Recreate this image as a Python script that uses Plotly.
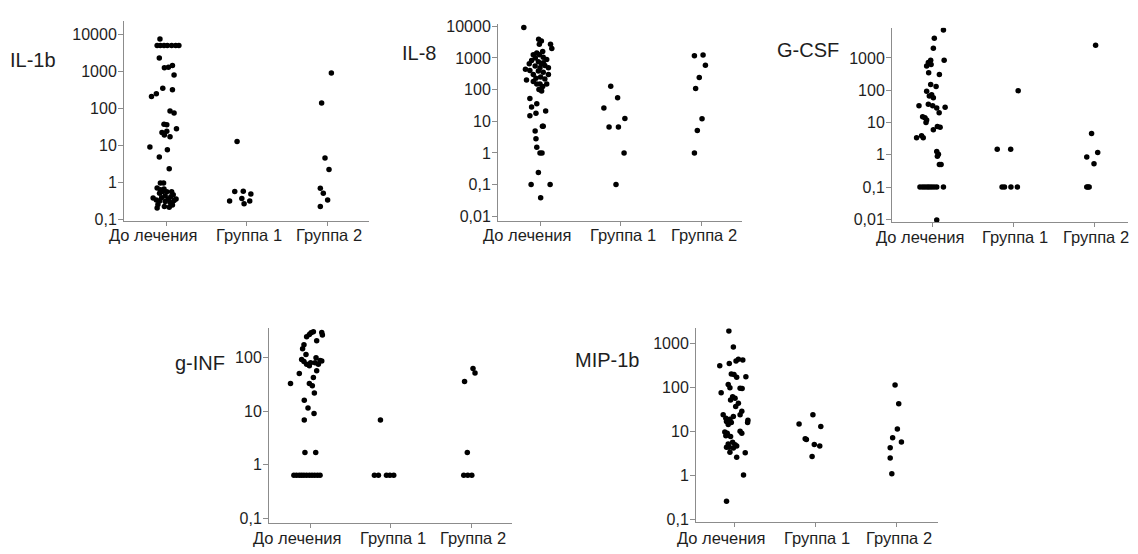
import plotly.graph_objects as go

# ---------------- categories & ticks ----------------
categories = ["До лечения", "Группа 1", "Группа 2"]
panel_names = ["IL-1b", "IL-8", "G-CSF", "g-INF", "MIP-1b"]

ticks_il1b = [0.1, 1, 10, 100, 1000, 10000]
ticktext_il1b = ["0,1", "1", "10", "100", "1000", "10000"]
ticks_il8 = [0.01, 0.1, 1, 10, 100, 1000, 10000]
ticktext_il8 = ["0,01", "0,1", "1", "10", "100", "1000", "10000"]
ticks_gcsf = [0.01, 0.1, 1, 10, 100, 1000]
ticktext_gcsf = ["0,01", "0,1", "1", "10", "100", "1000"]
ticks_ginf = [0.1, 1, 10, 100]
ticktext_ginf = ["0,1", "1", "10", "100"]
ticks_mip = [0.1, 1, 10, 100, 1000]
ticktext_mip = ["0,1", "1", "10", "100", "1000"]

# ---------------- IL-1b ----------------
il1b_before = [7500, 5000, 5000, 5000, 5000, 5000, 5000, 5000, 2300, 1250, 1300, 1450, 800,
               210, 250, 350, 320, 85, 75, 37, 36, 28, 22, 19, 24, 17, 9, 7.5, 4.8, 2.3,
               0.95, 0.95, 0.7, 0.62, 0.65, 0.55, 0.5, 0.56, 0.55, 0.46,
               0.37, 0.33, 0.38, 0.42, 0.35, 0.4, 0.35, 0.31, 0.3, 0.28, 0.32,
               0.25, 0.22, 0.27, 0.24, 0.2, 0.21]
il1b_before_dx = [-0.075, -0.11, -0.07, -0.025, 0.017, 0.07, 0.12, 0.16, -0.083, -0.02, 0.03, 0.08, 0.1,
                  -0.18, -0.12, -0.04, 0.08, 0.05, 0.1, -0.025, 0.01, 0.13, -0.05, -0.02, 0.01, 0.05, -0.2, 0.017, -0.083, 0.04,
                  -0.07, -0.03, -0.11, -0.07, -0.025, 0.01, -0.08, -0.04, 0.07, 0.09,
                  -0.16, -0.12, -0.055, -0.01, 0.03, 0.06, 0.125, -0.08, -0.01, 0.05, 0.1,
                  -0.1, -0.02, 0.07, 0.08, -0.11, 0.04]
il1b_g1 = [12.6, 0.56, 0.57, 0.48, 0.36, 0.31, 0.31, 0.26]
il1b_g1_dx = [-0.117, -0.146, -0.04, 0.054, -0.058, 0.04, -0.21, -0.03]
il1b_g2 = [910, 140, 4.5, 2.2, 0.69, 0.5, 0.33, 0.22]
il1b_g2_dx = [0.054, -0.067, -0.025, 0.025, -0.083, -0.046, 0.008, -0.083]

# ---------------- IL-8 ----------------
il8_before = [9100, 3900, 3400, 2700, 2700, 2000, 1600, 1430, 1270, 1270, 1000, 1050, 890, 830,
              760, 650, 650, 560, 580, 490, 440, 390, 350, 200, 180, 230, 250, 150, 150, 125,
              100, 90, 400, 490, 215, 300, 300, 150, 700,
              52, 36, 28, 15, 18, 21, 7, 7, 4.9, 2.8, 1.5, 1.0, 1.0, 0.24, 0.1, 0.1, 0.038]
il8_before_dx = [-0.2, -0.017, 0.017, -0.008, 0.13, 0.146, 0.033, -0.04, -0.083, -0.008, -0.058, 0.04, 0.083, -0.104,
                 -0.02, 0.02, -0.133, -0.06, 0.06, 0.104, -0.18, -0.02, 0.04, -0.167, -0.083, -0.05, 0.008, 0.083, -0.04, 0.033,
                 -0.013, 0.02, -0.125, 0.0, 0.06, -0.083, 0.104, 0.0, 0.04,
                 -0.125, -0.04, -0.104, -0.125, -0.05, 0.07, 0.04, 0.03, -0.06, -0.05, -0.04, 0.0, 0.025, -0.02, -0.11, 0.125, 0.008]
il8_g1 = [128, 55, 26, 12.3, 6.6, 6.6, 1.0, 0.1]
il8_g1_dx = [-0.125, -0.04, -0.21, 0.05, -0.146, -0.03, 0.04, -0.06]
il8_g2 = [1180, 1250, 590, 240, 108, 12, 5.1, 1.0]
il8_g2_dx = [-0.09, 0.017, 0.046, -0.03, -0.075, 0.004, -0.054, -0.09]

# ---------------- G-CSF ----------------
gcsf_before = [7400, 4100, 2000, 850, 850, 720, 630, 570, 350, 310, 150, 130, 93, 73, 66, 59,
               33, 37, 33, 28, 30, 15, 14, 12, 20, 10, 7.6, 7.2, 6, 3.4, 3.9, 3.4,
               1.26, 1.05, 0.9, 0.5, 0.5,
               0.1, 0.1, 0.1, 0.1, 0.1, 0.1, 0.1, 0.1, 0.1, 0.0095]
gcsf_before_dx = [0.133, 0.02, 0.008, 0.142, -0.025, -0.054, -0.02, -0.075, -0.05, 0.083, -0.025, 0.042, -0.075, -0.013, -0.042, 0.008,
                  -0.17, -0.054, 0.0, 0.05, 0.154, -0.125, -0.096, -0.075, 0.08, -0.083, 0.058, 0.092, 0.008, -0.2, -0.138, -0.117,
                  0.05, 0.071, 0.058, 0.083, 0.104,
                  -0.158, -0.125, -0.096, -0.067, -0.042, -0.013, 0.017, 0.05, 0.133, 0.05]
gcsf_g1 = [97, 1.5, 1.5, 0.1, 0.1, 0.1, 0.1]
gcsf_g1_dx = [0.06, -0.2, -0.033, -0.14, -0.11, -0.03, 0.05]
gcsf_g2 = [2500, 4.6, 0.85, 1.18, 0.53, 0.1, 0.1, 0.1]
gcsf_g2_dx = [0.02, -0.03, -0.09, 0.046, 0.0, -0.09, -0.075, -0.06]

# ---------------- g-INF ----------------
ginf_before = [293, 305, 273, 297, 265, 248, 207, 175, 148, 115, 100, 93, 85, 76, 71, 89, 81, 81, 87, 76,
               57, 43, 33, 33, 51, 30, 22, 16, 11.5, 9.1, 6.9, 1.7, 1.7,
               0.64, 0.64, 0.64, 0.64, 0.64, 0.64, 0.64, 0.64, 0.64, 0.64, 0.64]
ginf_before_dx = [0.013, 0.042, -0.008, 0.146, 0.154, -0.042, 0.083, -0.075, -0.092, -0.05, 0.075, -0.104, -0.075, -0.042, -0.008, 0.125, 0.063, 0.008, 0.146, 0.104,
                  0.083, 0.042, -0.008, -0.242, -0.133, 0.029, 0.054, -0.071, -0.025, 0.05, -0.071, -0.063, 0.071,
                  -0.2, -0.167, -0.133, -0.104, -0.075, -0.042, -0.008, 0.025, 0.058, 0.092, 0.125]
ginf_g1 = [6.9, 0.64, 0.64, 0.64, 0.64, 0.64]
ginf_g1_dx = [-0.125, -0.2, -0.15, -0.05, -0.008, 0.04]
ginf_g2 = [63, 52, 36, 1.7, 0.64, 0.64, 0.64]
ginf_g2_dx = [0.025, 0.05, -0.08, -0.046, -0.09, -0.04, 0.01]

# ---------------- MIP-1b ----------------
mip_before = [1950, 840, 315, 355, 405, 440, 425, 205, 198, 173, 178, 118, 100, 76, 97, 95,
              62, 57, 52, 44, 37, 29, 24, 20, 19, 22, 24, 17, 14.5, 16, 18, 16,
              9.8, 9.1, 10.2, 9.1, 8, 7.7, 5.2, 5.7, 5.0, 4.4, 4.2, 4.7, 4.4, 3.4, 3.3, 2.6, 1.02, 0.26]
mip_before_dx = [-0.063, -0.008, -0.175, -0.058, 0.025, 0.054, 0.108, -0.033, 0.0, 0.033, 0.146, -0.071, -0.05, -0.158, 0.075, 0.1,
                 -0.017, 0.013, -0.042, 0.054, 0.021, 0.096, -0.133, -0.1, -0.05, -0.008, 0.075, -0.092, -0.071, -0.033, 0.171, 0.167,
                 -0.113, -0.083, 0.075, 0.096, -0.1, -0.042, -0.071, -0.017, 0.013, -0.058, -0.008, 0.033, -0.092, -0.05, 0.138, 0.033, 0.117, -0.092]
mip_g1 = [24, 14.8, 13, 6.9, 6.6, 5.1, 4.7, 2.7]
mip_g1_dx = [-0.03, -0.2, 0.067, -0.125, -0.11, -0.013, 0.054, -0.04]
mip_g2 = [115, 43, 11.5, 7.2, 5.8, 4.3, 2.5, 1.1]
mip_g2_dx = [-0.02, 0.025, 0.008, -0.05, 0.058, -0.08, -0.08, -0.06]

panels = [
    (il1b_before, il1b_before_dx, il1b_g1, il1b_g1_dx, il1b_g2, il1b_g2_dx, ticks_il1b, ticktext_il1b),
    (il8_before, il8_before_dx, il8_g1, il8_g1_dx, il8_g2, il8_g2_dx, ticks_il8, ticktext_il8),
    (gcsf_before, gcsf_before_dx, gcsf_g1, gcsf_g1_dx, gcsf_g2, gcsf_g2_dx, ticks_gcsf, ticktext_gcsf),
    (ginf_before, ginf_before_dx, ginf_g1, ginf_g1_dx, ginf_g2, ginf_g2_dx, ticks_ginf, ticktext_ginf),
    (mip_before, mip_before_dx, mip_g1, mip_g1_dx, mip_g2, mip_g2_dx, ticks_mip, ticktext_mip),
]

# ---------------- layout geometry (pixels in the page) ----------------
OFF = 8                       # page body margin
W, H = 1138 - 2 * OFF, 554 - OFF
# (x_left, x_right, cat0_px, cat2_px, y_top, y_bottom, log_min, log_max,
#  label_x, label_y, category_label_y)
geom = [
    (124, 369, 166, 327, 15, 220, -1.05, 4.37, 8, 55, 234.5),
    (498, 742, 540, 701.7, 18, 220, -2.15, 4.08, 400, 48, 234.5),
    (892, 1128, 932.7, 1094, 22, 221, -2.08, 3.94, 775, 45, 236),
    (269, 512, 310, 471, 330, 529, -1.08, 2.55, 173, 365, 545),
    (696, 938, 734, 896.7, 330, 528, -1.05, 3.35, 573, 362, 545),
]
CAT_LABEL_SHIFT = [-13, 2, 2]   # px shift of each category label from its tick

FONT = "Liberation Sans, Arial, sans-serif"
AXIS_COLOR = "#8c8c8c"
TEXT_COLOR = "#1e1e1e"

fig = go.Figure()
layout = dict(
    width=W, height=H,
    margin=dict(l=0, r=0, t=0, b=0),
    paper_bgcolor="white", plot_bgcolor="white",
    showlegend=False,
    font=dict(family=FONT, color=TEXT_COLOR),
    annotations=[],
)

for i, (panel, g) in enumerate(zip(panels, geom)):
    before, before_dx, g1, g1_dx, g2, g2_dx, tv, tt = panel
    xl, xr, c0, c2, yt, yb, lmin, lmax, lx, ly, cy = g
    xl, xr, c0, c2, yt, yb, lx, ly, cy = [v - OFF for v in (xl, xr, c0, c2, yt, yb, lx, ly, cy)]
    sp = (c2 - c0) / 2.0
    suffix = "" if i == 0 else str(i + 1)
    xs, ys = [], []
    for gi, (vals, dxs) in enumerate([(before, before_dx), (g1, g1_dx), (g2, g2_dx)]):
        xs += [gi + d for d in dxs]
        ys += list(vals)
    fig.add_trace(go.Scatter(
        x=xs, y=ys, mode="markers",
        marker=dict(color="black", size=5.5, line=dict(width=0)),
        xaxis="x" + suffix, yaxis="y" + suffix,
    ))
    layout["xaxis" + suffix] = dict(
        domain=[xl / W, xr / W], anchor="y" + suffix,
        range=[(xl - c0) / sp, (xr - c0) / sp],
        tickmode="array", tickvals=[0, 1, 2], ticktext=categories, showticklabels=False,
        showline=True, linecolor=AXIS_COLOR, linewidth=1,
        ticks="outside", ticklen=4, tickcolor=AXIS_COLOR,
        showgrid=False, zeroline=False,
    )
    layout["yaxis" + suffix] = dict(
        domain=[1 - yb / H, 1 - yt / H], anchor="x" + suffix,
        type="log", range=[lmin, lmax], tickmode="array", tickvals=tv, ticktext=tt,
        showline=True, linecolor=AXIS_COLOR, linewidth=1,
        ticks="outside", ticklen=5, tickcolor=AXIS_COLOR,
        showgrid=False, zeroline=False, ticklabelstandoff=-2,
        tickfont=dict(size=16, family=FONT, color=TEXT_COLOR),
    )
    layout["annotations"].append(dict(
        text=panel_names[i], x=lx / W, y=1 - ly / H, xref="paper", yref="paper",
        xanchor="left", yanchor="middle", showarrow=False,
        font=dict(size=20, family=FONT, color=TEXT_COLOR),
    ))
    for ci, cat in enumerate(categories):
        layout["annotations"].append(dict(
            text=cat, x=ci, y=1 - cy / H, xref="x" + suffix, yref="paper",
            xanchor="center", yanchor="middle", xshift=CAT_LABEL_SHIFT[ci], showarrow=False,
            font=dict(size=16.5, family=FONT, color=TEXT_COLOR),
        ))

fig.update_layout(**layout)
fig.write_html("out.html")
